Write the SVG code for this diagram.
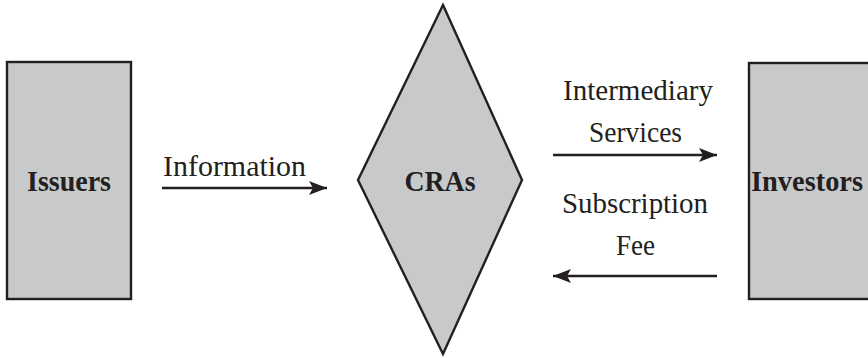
<svg xmlns="http://www.w3.org/2000/svg" width="868" height="358" viewBox="0 0 868 358">
<style>
.node{fill:#c8c9cb;stroke:#231f20;stroke-width:2.4}
.conn{stroke:#231f20;stroke-width:2.6;fill:none}
</style>
<defs>
<marker id="ah" viewBox="0 0 18 14" refX="18" refY="7" markerWidth="18" markerHeight="14" markerUnits="userSpaceOnUse" orient="auto">
<path d="M0,0 L18,7 L0,14 L4,7 Z" fill="#231f20"/>
</marker>
</defs>
<g font-family="Liberation Serif, serif" font-size="30" fill="#231f20">
<g id="issuers">
<rect class="node" x="7" y="62" width="124" height="237"/>
<text font-family="Liberation Serif, serif" font-size="30" font-weight="bold" fill="#231f20" x="69" y="191" text-anchor="middle" textLength="84" lengthAdjust="spacingAndGlyphs">Issuers</text>
</g>
<g id="cras">
<polygon class="node" points="443,5 522,180 443,354 358,180"/>
<text font-family="Liberation Serif, serif" font-size="30" font-weight="bold" fill="#231f20" x="440" y="191" text-anchor="middle" textLength="71" lengthAdjust="spacingAndGlyphs">CRAs</text>
</g>
<g id="investors">
<rect class="node" x="749" y="63" width="130" height="236"/>
<text font-family="Liberation Serif, serif" font-size="30" font-weight="bold" fill="#231f20" x="807" y="191" text-anchor="middle" textLength="112" lengthAdjust="spacingAndGlyphs">Investors</text>
</g>
<g id="connectors">
<line class="conn" x1="162" y1="188" x2="327" y2="188" marker-end="url(#ah)"/>
<line class="conn" x1="553" y1="155" x2="717" y2="155" marker-end="url(#ah)"/>
<line class="conn" x1="717" y1="276" x2="553" y2="276" marker-end="url(#ah)"/>
<text font-family="Liberation Serif, serif" font-size="30" fill="#231f20" x="234.5" y="176" text-anchor="middle" textLength="143" lengthAdjust="spacingAndGlyphs">Information</text>
<text font-family="Liberation Serif, serif" font-size="30" fill="#231f20" x="638" y="100" text-anchor="middle" textLength="150" lengthAdjust="spacingAndGlyphs">Intermediary</text>
<text font-family="Liberation Serif, serif" font-size="30" fill="#231f20" x="635.5" y="142" text-anchor="middle" textLength="93" lengthAdjust="spacingAndGlyphs">Services</text>
<text font-family="Liberation Serif, serif" font-size="30" fill="#231f20" x="635" y="213" text-anchor="middle" textLength="146" lengthAdjust="spacingAndGlyphs">Subscription</text>
<text font-family="Liberation Serif, serif" font-size="30" fill="#231f20" x="635.5" y="255" text-anchor="middle" textLength="39" lengthAdjust="spacingAndGlyphs">Fee</text>
</g>
</g>
</svg>
